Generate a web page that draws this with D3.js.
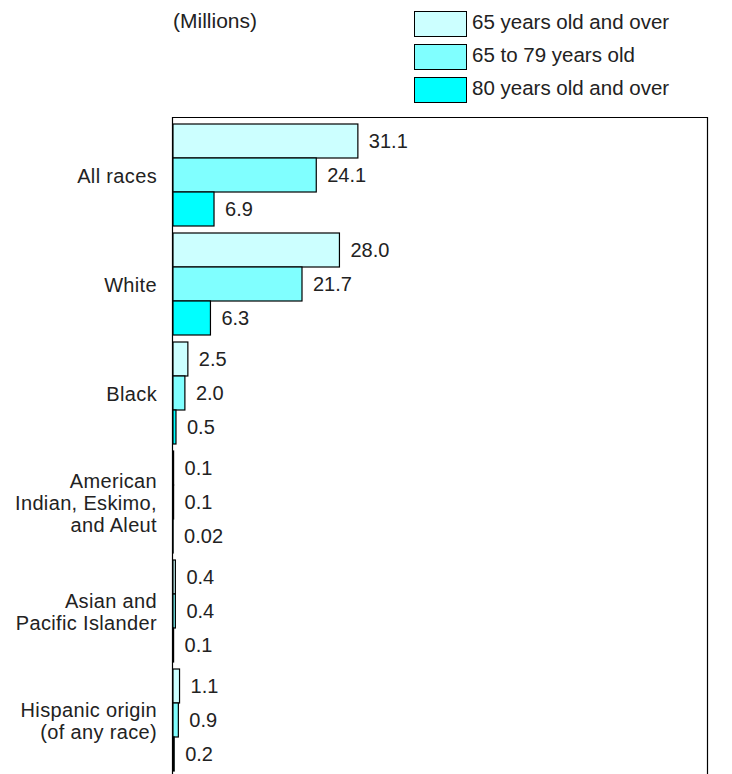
<!DOCTYPE html>
<html>
<head>
<meta charset="utf-8">
<script src="https://cdn.jsdelivr.net/npm/d3@7"></script>
<style>
  html, body { margin: 0; padding: 0; background: #fff; }
  svg { display: block; font-family: "Liberation Sans", Arial, sans-serif; }
</style>
</head>
<body>
<svg id="chart" width="732" height="774"></svg>
<script>
// Population 65 years and over by race and Hispanic origin (millions)
const categories = [
  ["All races"],
  ["White"],
  ["Black"],
  ["American", "Indian, Eskimo,", "and Aleut"],
  ["Asian and", "Pacific Islander"],
  ["Hispanic origin", "(of any race)"]
];
const seriesNames = ["65 years old and over", "65 to 79 years old", "80 years old and over"];
const age65plus = [31.1, 28.0, 2.5, 0.1, 0.4, 1.1];
const age65to79 = [24.1, 21.7, 2.0, 0.1, 0.4, 0.9];
const age80plus = [6.9, 6.3, 0.5, 0.02, 0.1, 0.2];
const seriesColors = ["#ccffff", "#80ffff", "#00ffff"];
const unitLabel = "(Millions)";

const seriesValues = [age65plus, age65to79, age80plus];
const catKeys = categories.map(c => c.join(" "));

const svg = d3.select("#chart");
const textColor = "#222";

const x = d3.scaleLinear().domain([0, 90]).range([173, 708]);
const y = d3.scaleBand().domain(catKeys).range([124, 771]).paddingInner(7 / 109).paddingOuter(0);
const ySub = d3.scaleBand().domain(d3.range(seriesNames.length)).range([0, y.bandwidth()]);

// Plot frame (open at the bottom edge of the page)
svg.append("path")
  .attr("d", `M${x(0) - 0.5},774 V117.5 H707.5 V774`)
  .attr("fill", "none")
  .attr("stroke", "#000")
  .attr("stroke-width", 1.2);

// Bars
const groups = svg.selectAll("g.cat")
  .data(catKeys)
  .join("g")
  .attr("class", "cat")
  .attr("transform", d => `translate(0,${y(d)})`);

const fmt = v => v < 0.1 ? v.toFixed(2) : v.toFixed(1);

groups.each(function (key, ci) {
  const g = d3.select(this);
  const rows = seriesValues.map((vals, si) => ({ si, v: vals[ci] }));
  g.selectAll("rect")
    .data(rows)
    .join("rect")
    .attr("x", x(0))
    .attr("y", d => ySub(d.si))
    .attr("width", d => x(d.v) - x(0))
    .attr("height", ySub.bandwidth())
    .attr("fill", d => seriesColors[d.si])
    .attr("stroke", "#000")
    .attr("stroke-width", 1.2);
  g.selectAll("text.val")
    .data(rows)
    .join("text")
    .attr("class", "val")
    .attr("x", d => x(d.v) + 11)
    .attr("y", d => ySub(d.si) + ySub.bandwidth() / 2)
    .attr("dy", "0.36em")
    .attr("font-size", 20)
    .attr("fill", textColor)
    .text(d => fmt(d.v));
});

// Category labels
const lineH = 22;
svg.selectAll("text.cat")
  .data(categories)
  .join("text")
  .attr("class", "cat")
  .attr("text-anchor", "end")
  .attr("font-size", 20)
  .attr("letter-spacing", 0.35)
  .attr("fill", textColor)
  .each(function (lines, i) {
    const cy = y(catKeys[i]) + y.bandwidth() / 2;
    const top = cy - (lines.length - 1) * lineH / 2;
    d3.select(this).selectAll("tspan")
      .data(lines)
      .join("tspan")
      .attr("x", 157)
      .attr("y", (d, j) => top + j * lineH)
      .attr("dy", "0.38em")
      .text(d => d);
  });

// Unit label
svg.append("text")
  .attr("x", 173)
  .attr("y", 28)
  .attr("font-size", 21)
  .attr("fill", textColor)
  .text(unitLabel);

// Legend
const legend = svg.append("g").attr("transform", "translate(414,11)");
const leg = legend.selectAll("g")
  .data(seriesNames)
  .join("g")
  .attr("transform", (d, i) => `translate(0,${i * 33})`);
leg.append("rect")
  .attr("x", 0.5).attr("y", 0.5)
  .attr("width", 52).attr("height", 25)
  .attr("fill", (d, i) => seriesColors[i])
  .attr("stroke", "#000")
  .attr("stroke-width", 1);
leg.append("text")
  .attr("x", 58)
  .attr("y", 18)
  .attr("font-size", 20.5)
  .attr("fill", textColor)
  .text(d => d);
</script>
</body>
</html>
